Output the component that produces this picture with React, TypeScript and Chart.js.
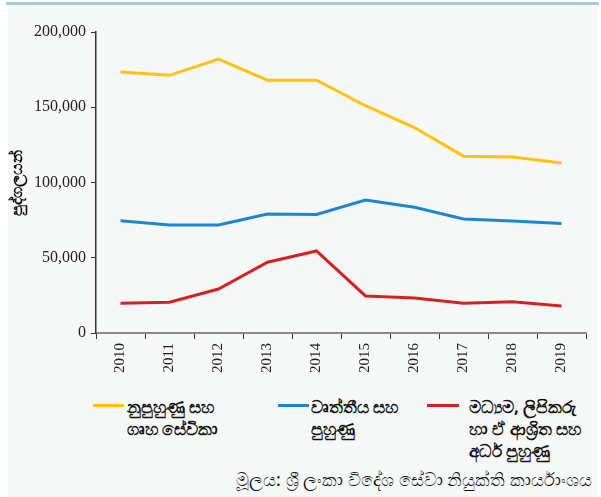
import React, { useEffect, useRef } from "react";
import { Chart, registerables } from "chart.js";

Chart.register(...registerables);

const years = ["2010", "2011", "2012", "2013", "2014", "2015", "2016", "2017", "2018", "2019"];
const unskilled = [173400, 171200, 182000, 168000, 168000, 151000, 136500, 117500, 117000, 113000];
const professional = [74600, 71800, 71800, 79000, 78800, 88300, 83500, 75700, 74500, 72800];
const middleClerical = [19700, 20500, 29200, 47000, 54500, 24600, 23300, 19800, 20700, 17900];
const yTicks = [0, 50000, 100000, 150000, 200000];

const seriesNames = [
  ["නුපුහුණු සහ", "ගෘහ සේවිකා"],
  ["වෘත්තීය සහ", "පුහුණු"],
  ["මධ්‍යම, ලිපිකරු", "හා ඒ ආශ්‍රිත සහ", "අර්ධ පුහුණු"],
];
const seriesColors = ["#FFC20E", "#1C87D0", "#D42222"];
const yTitle = "පුද්ගලයන්";
const sourceText = "මූලය: ශ්‍රී ලංකා විදේශ සේවා නියුක්ති කාර්යාංශය";

const sinhalaFont = "'Noto Sans', 'DejaVu Sans', sans-serif";

export default function App() {
  const ref = useRef<HTMLCanvasElement | null>(null);

  useEffect(() => {
    document.body.style.margin = "0";
    const ctx = ref.current!;
    const chart = new Chart(ctx, {
      type: "line",
      data: {
        labels: years,
        datasets: [unskilled, professional, middleClerical].map((d, i) => ({
          label: seriesNames[i].join(" "),
          data: d,
          borderColor: seriesColors[i],
          backgroundColor: seriesColors[i],
          borderWidth: 3,
          pointRadius: 0,
          tension: 0,
          fill: false,
        })),
      },
      options: {
        animation: false,
        responsive: false,
        maintainAspectRatio: false,
        layout: { padding: { top: 32, right: 15, left: 0, bottom: 0 } },
        plugins: { legend: { display: false }, tooltip: { enabled: false } },
        scales: {
          x: {
            offset: true,
            grid: {
              offset: true,
              drawOnChartArea: false,
              drawTicks: true,
              tickLength: 6,
              color: "#333",
            },
            border: { color: "#8a8a8a", width: 2 },
            ticks: {
              minRotation: 90,
              maxRotation: 90,
              autoSkip: false,
              padding: 4,
              color: "#222",
              font: { family: "'Liberation Serif', serif", size: 15 },
            },
            afterFit: (s: any) => {
              s.height = 47;
            },
          },
          y: {
            min: 0,
            max: 200000,
            afterBuildTicks: (s: any) => {
              s.ticks = yTicks.map((v) => ({ value: v }));
            },
            grid: {
              drawOnChartArea: false,
              drawTicks: true,
              tickLength: 5,
              color: "#333",
            },
            border: { color: "#333", width: 1.5 },
            ticks: {
              padding: 5,
              color: "#222",
              font: { family: "'Liberation Serif', serif", size: 16 },
              callback: (v: any) => Number(v).toLocaleString("en-US"),
            },
            title: {
              display: true,
              text: yTitle,
              color: "#111",
              padding: { top: 8, bottom: 0 },
              font: { family: sinhalaFont, size: 16, weight: "bold" },
            },
            afterFit: (s: any) => {
              s.width = 96;
            },
          },
        },
      },
    });
    return () => chart.destroy();
  }, []);

  const legendPos = [
    { swatch: 93, width: 31, text: 127 },
    { swatch: 278, width: 31, text: 311 },
    { swatch: 427, width: 32, text: 469 },
  ];

  return (
    <div style={{ position: "relative", width: 601, height: 497, background: "#fff", overflow: "hidden" }}>
      <div style={{ position: "absolute", left: 8, top: 4, width: 590, height: 493, background: "#f6f8f8" }} />
      <div style={{ position: "absolute", left: 6, top: 2, width: 593, height: 3, background: "#a3cad6" }} />
      <canvas ref={ref} width={601} height={380} style={{ position: "absolute", left: 0, top: 0, width: 601, height: 380 }} />
      {legendPos.map((p, i) => (
        <React.Fragment key={i}>
          <div
            style={{
              position: "absolute",
              left: p.swatch,
              top: 404,
              width: p.width,
              height: 3,
              background: seriesColors[i],
            }}
          />
          <div
            style={{
              position: "absolute",
              left: p.text,
              top: 396,
              fontFamily: sinhalaFont,
              fontSize: 17,
              fontWeight: "bold",
              lineHeight: "22px",
              color: "#111",
              whiteSpace: "nowrap",
            }}
          >
            {seriesNames[i].map((line, j) => (
              <div key={j}>{line}</div>
            ))}
          </div>
        </React.Fragment>
      ))}
      <div
        style={{
          position: "absolute",
          right: 9,
          top: 468,
          fontFamily: sinhalaFont,
          fontSize: 18,
          lineHeight: "22px",
          color: "#111",
          whiteSpace: "nowrap",
        }}
      >
        {sourceText}
      </div>
    </div>
  );
}
